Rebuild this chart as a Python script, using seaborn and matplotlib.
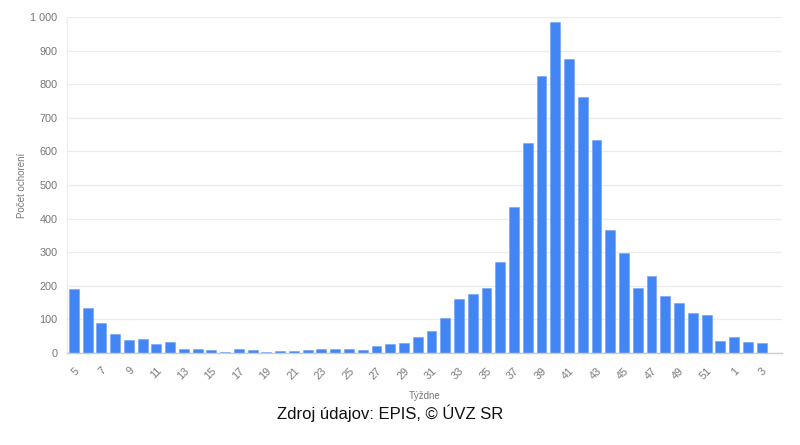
import matplotlib
matplotlib.use("Agg")
import matplotlib.pyplot as plt
from matplotlib.ticker import FuncFormatter
import seaborn as sns
import pandas as pd

weeks = list(range(5, 53)) + [1, 2, 3]
cases = [190, 133, 90, 56, 38, 42, 27, 32, 11, 12, 8, 3, 12, 8, 4, 7, 6, 8,
         11, 11, 12, 8, 20, 28, 30, 48, 66, 105, 160, 177, 193, 271, 434, 625,
         824, 986, 875, 762, 633, 366, 298, 193, 228, 171, 149, 120, 112, 36,
         49, 33, 30]
y_ticks = [0, 100, 200, 300, 400, 500, 600, 700, 800, 900, 1000]
x_title = "Týždne"
y_title = "Počet ochorení"
source = "Zdroj údajov: EPIS, © ÚVZ SR"

df = pd.DataFrame({"week": [str(w) for w in weeks], "cases": cases})

sns.set_theme(style="white")
plt.rcParams['font.family'] = ['Liberation Sans', 'DejaVu Sans']

fig = plt.figure(figsize=(8, 4.45), dpi=100)
ax = fig.add_axes([0.08375, 0.2067, 0.894, 0.7551])

sns.barplot(data=df, x="week", y="cases", color="#4285f4", saturation=1,
            width=0.72, edgecolor="#6fa2f7", linewidth=0.4, ax=ax, zorder=3)

ax.set_xlim(-0.5, 51.5)
ax.set_ylim(0, 1000)
ax.set_yticks(y_ticks)
ax.yaxis.set_major_formatter(FuncFormatter(lambda v, p: f"{v:,.0f}".replace(",", " ")))
ax.grid(axis="y", color="#ebebeb", linewidth=0.9, zorder=0)
ax.grid(axis="x", visible=False)

idx = list(range(0, len(weeks), 2))
ax.set_xticks(idx)
ax.set_xticklabels([str(weeks[i]) for i in idx], rotation=45, ha="right",
                   rotation_mode="anchor", color="#777777", fontsize=7.8)
ax.tick_params(axis="x", length=4, width=0.7, color="#d0d0d0", pad=5)
ax.tick_params(axis="y", length=0, pad=7, labelcolor="#777777", labelsize=7.8)

for s in ["top", "right"]:
    ax.spines[s].set_visible(False)
ax.spines["left"].set_color("#eeeeee")
ax.spines["left"].set_linewidth(0.9)
ax.spines["bottom"].set_color("#cccccc")
ax.spines["bottom"].set_linewidth(1.0)
ax.spines["bottom"].set_zorder(4)

ax.set_xlabel(x_title, fontsize=7, color="#777777", labelpad=7)
ax.set_ylabel("")
fig.text(22 / 800, 1 - 185 / 445, y_title, rotation=90, ha="center", va="center",
         fontsize=7, color="#777777")

fig.text(0.4875, 0.072, source, ha="center", va="center", fontsize=12, color="#111111")

fig.savefig("out.png", dpi=100, facecolor="white")
